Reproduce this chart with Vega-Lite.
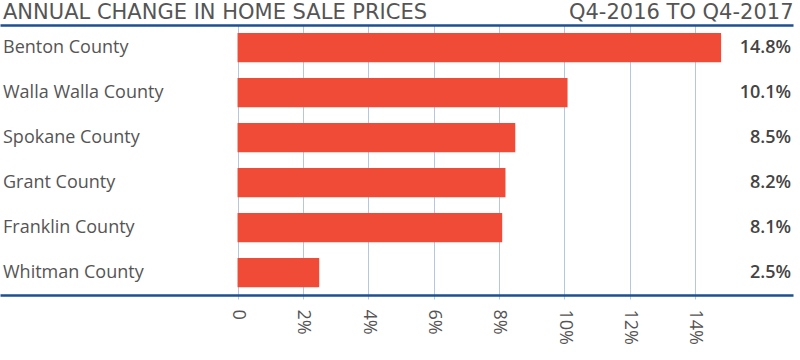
{
  "$schema": "https://vega.github.io/schema/vega-lite/v6.json",
  "width": 793,
  "height": 270,
  "autosize": "none",
  "padding": {"left": 0, "top": 25, "right": 7, "bottom": 65},
  "background": "white",
  "config": {"view": {"stroke": null}},
  "title": {
    "text": "ANNUAL CHANGE IN HOME SALE PRICES",
    "anchor": "start",
    "font": "DejaVu Sans",
    "fontSize": 21,
    "fontWeight": "normal",
    "color": "#555555",
    "baseline": "alphabetic",
    "offset": -38,
    "dx": 3
  },
  "data": {
    "values": [
      {"county": "Benton County", "change": 14.8, "label": "14.8%"},
      {"county": "Walla Walla County", "change": 10.1, "label": "10.1%"},
      {"county": "Spokane County", "change": 8.5, "label": "8.5%"},
      {"county": "Grant County", "change": 8.2, "label": "8.2%"},
      {"county": "Franklin County", "change": 8.1, "label": "8.1%"},
      {"county": "Whitman County", "change": 2.5, "label": "2.5%"}
    ]
  },
  "encoding": {
    "y": {
      "field": "county",
      "type": "nominal",
      "sort": null,
      "scale": {"paddingInner": 0.35, "paddingOuter": 0.175},
      "axis": null
    }
  },
  "layer": [
    {
      "mark": {"type": "bar", "color": "#f04b37"},
      "encoding": {
        "x": {
          "field": "change",
          "type": "quantitative",
          "scale": {"domain": [-7.27, 17], "nice": false, "zero": false},
          "axis": {
            "orient": "bottom",
            "values": [0, 2, 4, 6, 8, 10, 12, 14],
            "labelExpr": "datum.value === 0 ? '0' : datum.value + '%'",
            "title": null,
            "domainColor": "#1d4f91",
            "domainWidth": 2.5,
            "grid": true,
            "gridColor": "#b5c7dd",
            "gridWidth": 1,
            "tickColor": "#b5c7dd",
            "tickSize": 4,
            "labelAngle": 90,
            "labelAlign": "left",
            "labelBaseline": "middle",
            "labelPadding": 10,
            "labelFont": "Open Sans",
            "labelFontSize": 18,
            "labelColor": "#555555"
          }
        },
        "x2": {"datum": 0}
      }
    },
    {
      "mark": {"type": "rule", "color": "#1d4f91", "strokeWidth": 2.5},
      "encoding": {
        "x": {
          "datum": 0,
          "type": "quantitative",
          "axis": {
            "orient": "top",
            "labels": false,
            "ticks": false,
            "grid": false,
            "domainColor": "#1d4f91",
            "domainWidth": 2.5,
            "title": "Q4-2016 TO Q4-2017",
            "titleAnchor": "end",
            "titleFont": "DejaVu Sans",
            "titleFontSize": 21,
            "titleFontWeight": "normal",
            "titleColor": "#555555",
            "titleBaseline": "alphabetic",
            "titlePadding": 6.5
          }
        }
      }
    },
    {
      "mark": {"type": "text", "align": "left", "baseline": "middle", "font": "Open Sans", "fontSize": 18, "color": "#555555", "dx": 3},
      "encoding": {
        "x": {"datum": -7.27, "type": "quantitative", "axis": null},
        "text": {"field": "county"}
      }
    },
    {
      "mark": {"type": "text", "align": "right", "baseline": "middle", "font": "Open Sans", "fontSize": 18, "fontWeight": 600, "color": "#444444", "dx": -2},
      "encoding": {
        "x": {"datum": 17, "type": "quantitative", "axis": null},
        "text": {"field": "label"}
      }
    }
  ],
  "resolve": {"axis": {"x": "independent"}}
}
